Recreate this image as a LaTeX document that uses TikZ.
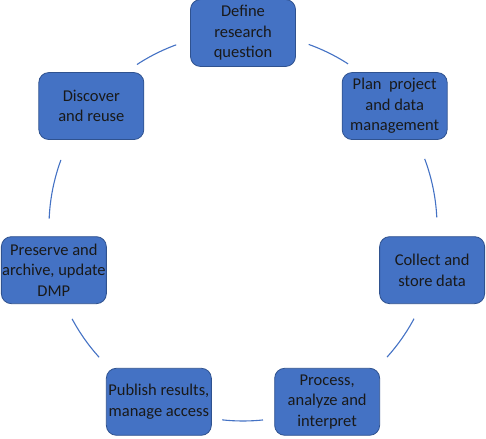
\documentclass[tikz,border=0pt]{standalone}
\usepackage{fontspec}
\setmainfont{Carlito}

\definecolor{boxblue}{HTML}{4472C4}
\definecolor{boxedge}{HTML}{2F528F}
\definecolor{ringblue}{HTML}{4472C4}

\begin{document}
\begin{tikzpicture}[x=1pt, y=1pt]

% --- styles ---
\tikzset{
  stage/.style={draw=boxedge, fill=boxblue, line width=0.8pt, rounded corners=10pt,
    minimum width=105pt, minimum height=67pt, inner sep=0pt, align=center,
    text=black!90, font=\fontsize{16.5}{20.5}\selectfont},
  ring/.style 2 args={draw=ringblue, line width=1.1pt,
    dash pattern=on 0pt off #1 on #2 off 400pt, bend left=25.7, looseness=0.9}
}

% --- parameters ---
\def\ringR{194}   % radius of the cycle

\useasboundingbox (0,0) rectangle (486,438);
\coordinate (hub) at (243,211);

% --- stages ---
\node[stage] (define)   at ([shift={(90:\ringR)}]hub)      {Define\\research\\question};
\node[stage] (plan)     at ([shift={(38.57:\ringR)}]hub)   {Plan~ project\\and data\\management~};
\node[stage] (collect)  at ([shift={(-12.86:\ringR)}]hub)  {Collect and\\store data};
\node[stage] (process)  at ([shift={(-64.29:\ringR)}]hub)  {Process,\\analyze and\\interpret};
\node[stage] (publish)  at ([shift={(-115.71:\ringR)}]hub) {Publish results,\\manage access};
\node[stage] (preserve) at ([shift={(-167.14:\ringR)}]hub) {Preserve and\\archive, update\\DMP};
\node[stage] (discover) at ([shift={(141.43:\ringR)}]hub)  {Discover\\and reuse};

% --- arcs of the cycle ---
\draw[ring={67pt}{44pt}] (define.center)   to (plan.center);
\draw[ring={61pt}{60pt}] (plan.center)     to (collect.center);
\draw[ring={52pt}{47pt}] (collect.center)  to (process.center);
\draw[ring={67pt}{41pt}] (process.center)  to (publish.center);
\draw[ring={75pt}{47pt}] (publish.center)  to (preserve.center);
\draw[ring={52pt}{60pt}] (preserve.center) to (discover.center);
\draw[ring={62pt}{44pt}] (discover.center) to (define.center);

\end{tikzpicture}
\end{document}
